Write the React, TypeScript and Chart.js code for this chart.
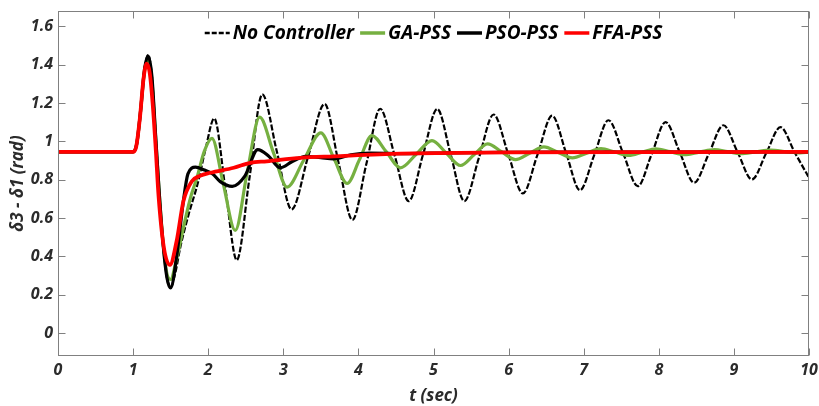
import React, { useEffect, useRef } from "react";
import { Chart, registerables } from "chart.js";
Chart.register(...registerables);

const xTicks = [0, 1, 2, 3, 4, 5, 6, 7, 8, 9, 10];
const yTicks = [0, 0.2, 0.4, 0.6, 0.8, 1, 1.2, 1.4, 1.6];

const noCtrlT = [0, 1.0, 1.05, 1.1, 1.15, 1.2, 1.25, 1.3, 1.35, 1.4, 1.45, 1.5, 1.56, 1.63, 1.74, 1.86, 1.97, 2.08, 2.23, 2.38, 2.55, 2.72, 2.915, 3.11, 3.33, 3.55, 3.735, 3.92, 4.105, 4.29, 4.48, 4.67, 4.86, 5.05, 5.23, 5.41, 5.605, 5.8, 5.995, 6.19, 6.385, 6.58, 6.765, 6.95, 7.14, 7.33, 7.525, 7.72, 7.905, 8.09, 8.28, 8.47, 8.665, 8.86, 9.05, 9.24, 9.43, 9.62, 9.81, 10];
const noCtrlV = [0.945, 0.945, 0.99, 1.16, 1.37, 1.45, 1.34, 1.03, 0.72, 0.46, 0.29, 0.24, 0.31, 0.45, 0.62, 0.78, 0.97, 1.12, 0.75, 0.38, 0.81, 1.245, 0.945, 0.645, 0.92, 1.195, 0.89, 0.59, 0.88, 1.17, 0.93, 0.688, 0.93, 1.169, 0.93, 0.688, 0.914, 1.14, 0.934, 0.728, 0.931, 1.134, 0.94, 0.745, 0.928, 1.11, 0.938, 0.766, 0.933, 1.1, 0.942, 0.784, 0.934, 1.084, 0.943, 0.801, 0.938, 1.074, 0.942, 0.81];

const gaT = [0, 1.0, 1.05, 1.1, 1.15, 1.2, 1.25, 1.3, 1.35, 1.4, 1.45, 1.5, 1.57, 1.67, 1.76, 1.85, 1.95, 2.05, 2.2, 2.36, 2.52, 2.685, 2.87, 3.05, 3.27, 3.5, 3.675, 3.85, 4.015, 4.18, 4.37, 4.56, 4.77, 4.98, 5.17, 5.36, 5.54, 5.72, 5.905, 6.09, 6.28, 6.47, 6.66, 6.85, 7.04, 7.23, 7.415, 7.6, 7.78, 7.96, 8.15, 8.34, 8.54, 8.74, 8.915, 9.09, 9.29, 9.49, 9.7, 9.88, 10];
const gaV = [0.945, 0.945, 0.99, 1.16, 1.36, 1.43, 1.32, 1.02, 0.72, 0.47, 0.31, 0.28, 0.37, 0.55, 0.7, 0.81, 0.95, 1.015, 0.78, 0.535, 0.84, 1.126, 0.94, 0.761, 0.9, 1.044, 0.91, 0.78, 0.905, 1.03, 0.946, 0.862, 0.933, 1.004, 0.939, 0.874, 0.93, 0.987, 0.946, 0.905, 0.938, 0.971, 0.942, 0.914, 0.938, 0.962, 0.944, 0.926, 0.943, 0.961, 0.946, 0.931, 0.944, 0.957, 0.946, 0.936, 0.945, 0.954, 0.946, 0.94, 0.944];

const psoT = [0, 1.0, 1.05, 1.1, 1.15, 1.2, 1.25, 1.3, 1.35, 1.4, 1.45, 1.5, 1.58, 1.67, 1.73, 1.83, 1.95, 2.06, 2.16, 2.32, 2.49, 2.66, 2.8, 2.96, 3.12, 3.3, 3.5, 3.67, 3.9, 4.15, 4.6, 5.2, 6, 7, 10];
const psoV = [0.945, 0.945, 0.99, 1.16, 1.37, 1.445, 1.34, 1.03, 0.72, 0.46, 0.29, 0.235, 0.4, 0.69, 0.83, 0.865, 0.85, 0.83, 0.79, 0.765, 0.82, 0.957, 0.925, 0.862, 0.895, 0.922, 0.915, 0.909, 0.93, 0.938, 0.936, 0.94, 0.943, 0.944, 0.945];

const ffaT = [0, 1.0, 1.04, 1.09, 1.14, 1.18, 1.22, 1.26, 1.3, 1.34, 1.41, 1.49, 1.58, 1.67, 1.78, 1.89, 2.03, 2.34, 2.56, 2.78, 3.23, 3.67, 4.56, 6, 8, 10];
const ffaV = [0.945, 0.945, 0.97, 1.12, 1.33, 1.405, 1.36, 1.2, 0.97, 0.71, 0.445, 0.355, 0.48, 0.688, 0.79, 0.82, 0.836, 0.862, 0.888, 0.896, 0.914, 0.922, 0.936, 0.942, 0.944, 0.945];

const seriesLabels = ["No Controller", "GA-PSS", "PSO-PSS", "FFA-PSS"];
const seriesColors = ["#000000", "#76b041", "#000000", "#ff0000"];

const toPts = (t: number[], v: number[]) => t.map((x, i) => ({ x, y: v[i] }));

const FONT = "'Open Sans'";
const tickFont = { family: FONT, size: 16, weight: "bold" as const, style: "italic" as const };
const titleFont = { family: FONT, size: 17, weight: "bold" as const, style: "italic" as const };
const textColor = "#2b2b2b";

const legendItems = [
  { label: seriesLabels[0], color: seriesColors[0], dash: [5, 2], width: 2.5 },
  { label: seriesLabels[1], color: seriesColors[1], dash: [], width: 3.5 },
  { label: seriesLabels[2], color: seriesColors[2], dash: [], width: 3.5 },
  { label: seriesLabels[3], color: seriesColors[3], dash: [], width: 3.5 },
];

const framePlugin = {
  id: "frame",
  afterDatasetsDraw(chart: any) {
    const { ctx, chartArea } = chart;
    const { left, right, top, bottom } = chartArea;
    const xs = chart.scales.x;
    const ys = chart.scales.y;
    ctx.save();
    ctx.strokeStyle = "#808080";
    ctx.lineWidth = 1;
    ctx.setLineDash([]);
    const L = Math.round(left) + 0.5;
    const R = Math.round(right) - 0.5;
    const T = Math.round(top) + 0.5;
    const B = Math.round(bottom) - 0.5;
    ctx.strokeRect(L, T, R - L, B - T);
    ctx.beginPath();
    xTicks.forEach((v) => {
      const px = Math.round(xs.getPixelForValue(v)) + 0.5;
      ctx.moveTo(px, B);
      ctx.lineTo(px, B - 7);
      ctx.moveTo(px, T);
      ctx.lineTo(px, T + 7);
    });
    yTicks.forEach((v) => {
      const py = Math.round(ys.getPixelForValue(v)) + 0.5;
      ctx.moveTo(L, py);
      ctx.lineTo(L + 7, py);
      ctx.moveTo(R, py);
      ctx.lineTo(R - 7, py);
    });
    ctx.stroke();

    // legend
    ctx.font = "italic bold 19px " + FONT;
    ctx.textBaseline = "middle";
    ctx.textAlign = "left";
    const sampleW = 25;
    const gapText = 3;
    const gapItem = 6;
    const widths = legendItems.map((it) => ctx.measureText(it.label).width);
    let total = 0;
    widths.forEach((w, i) => {
      total += sampleW + gapText + w + (i < widths.length - 1 ? gapItem : 0);
    });
    let x = (left + right) / 2 - total / 2;
    const y = 33;
    legendItems.forEach((it, i) => {
      ctx.beginPath();
      ctx.strokeStyle = it.color;
      ctx.lineWidth = it.width;
      ctx.setLineDash(it.dash);
      ctx.moveTo(x, y);
      ctx.lineTo(x + sampleW, y);
      ctx.stroke();
      ctx.setLineDash([]);
      ctx.fillStyle = "#000000";
      ctx.fillText(it.label, x + sampleW + gapText, y + 1);
      x += sampleW + gapText + widths[i] + gapItem;
    });
    ctx.restore();
  },
};

export default function App() {
  const ref = useRef<HTMLCanvasElement | null>(null);
  useEffect(() => {
    document.body.style.margin = "0";
    document.body.style.overflow = "hidden";
    const canvas = ref.current;
    if (!canvas) return;
    const chart = new Chart(canvas, {
      type: "line",
      data: {
        datasets: [
          {
            label: seriesLabels[3],
            data: toPts(ffaT, ffaV),
            borderColor: seriesColors[3],
            borderWidth: 3.8,
            order: 0,
          },
          {
            label: seriesLabels[2],
            data: toPts(psoT, psoV),
            borderColor: seriesColors[2],
            borderWidth: 3.2,
            order: 1,
          },
          {
            label: seriesLabels[1],
            data: toPts(gaT, gaV),
            borderColor: seriesColors[1],
            borderWidth: 3.2,
            order: 2,
          },
          {
            label: seriesLabels[0],
            data: toPts(noCtrlT, noCtrlV),
            borderColor: seriesColors[0],
            borderWidth: 2.2,
            borderDash: [6, 2],
            order: 3,
          },
        ],
      },
      options: {
        responsive: false,
        animation: false,
        layout: { padding: { top: 11, right: 10, left: 0, bottom: 0 } },
        plugins: { legend: { display: false }, tooltip: { enabled: false } },
        elements: {
          point: { radius: 0 },
          line: { cubicInterpolationMode: "monotone", fill: false },
        },
        scales: {
          x: {
            type: "linear",
            min: 0,
            max: 10,
            afterBuildTicks: (s: any) => {
              s.ticks = xTicks.map((v) => ({ value: v }));
            },
            afterFit: (s: any) => {
              s.height = 50;
              s.paddingLeft = 0;
              s.paddingRight = 0;
            },
            grid: { display: false, drawTicks: false },
            border: { display: false },
            ticks: {
              font: tickFont,
              color: textColor,
              padding: 5,
              maxRotation: 0,
              autoSkip: false,
              callback: (v: any) => String(v),
            },
            title: {
              display: true,
              text: "t (sec)",
              font: titleFont,
              color: textColor,
              padding: { top: 0, bottom: 0 },
            },
          },
          y: {
            type: "linear",
            min: -0.12,
            max: 1.68,
            afterBuildTicks: (s: any) => {
              s.ticks = yTicks.map((v) => ({ value: v }));
            },
            afterFit: (s: any) => {
              s.width = 58;
              s.paddingTop = 0;
              s.paddingBottom = 0;
            },
            grid: { display: false, drawTicks: false },
            border: { display: false },
            ticks: {
              font: tickFont,
              color: textColor,
              padding: 5,
              autoSkip: false,
              callback: (v: any) => String(v),
            },
            title: {
              display: true,
              text: "δ3 - δ1 (rad)",
              font: titleFont,
              color: textColor,
              padding: { top: 8, bottom: 0 },
            },
          },
        },
      },
      plugins: [framePlugin],
    } as any);
    return () => chart.destroy();
  }, []);
  return (
    <div style={{ width: 819, height: 406 }}>
      <canvas ref={ref} width={819} height={406} style={{ display: "block" }} />
    </div>
  );
}
